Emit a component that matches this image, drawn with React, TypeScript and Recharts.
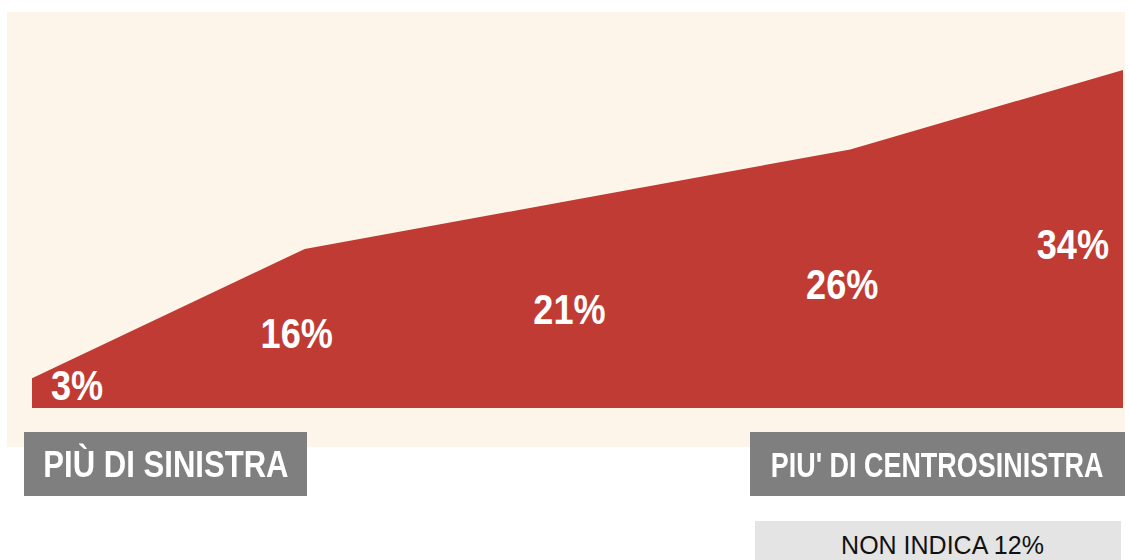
// Area "ladder" of self-placement answers, from far left to centre-left,
// with the two scale ends as grey tags under the plot and the
// "no answer" share in a light box below.
import { Area, AreaChart, LabelList, XAxis, YAxis } from "recharts";

const positions = [0, 1, 2, 3, 4];
const shares = [3, 16, 21, 26, 34];
const scaleEnds = ["PIÙ DI SINISTRA", "PIU' DI CENTROSINISTRA"];
const noAnswer = "NON INDICA 12%";

const RED = "#c03b33";
const CREAM = "#fdf5e9";
const GREY = "#7f7f7f";
const LIGHT = "#e4e4e4";
const SANS = "'Liberation Sans', Arial, Helvetica, sans-serif";

const W = 1118;
const H = 435;
const M = { top: 58, right: 2, bottom: 39, left: 25 };
const BASE = H - M.bottom;

const rows = positions.map((p, i) => ({ p, v: shares[i] }));

function ShareLabel(props: any) {
  const { x, y, value, index } = props;
  if (x == null || y == null) return null;
  const last = index === shares.length - 1;
  const first = index === 0;
  // sit in the middle of the column, but never crowd the baseline
  const cy = Math.min((y + BASE) / 2 + 5, BASE - 23);
  const tx = first ? x + 19 : last ? x - 14 : x - 8;
  const anchor = first ? "start" : last ? "end" : "middle";
  // no condensed face installed: squeeze the bold sans horizontally
  return (
    <g transform={`translate(${tx},${cy + 15}) scale(0.86,1)`}>
      <text
        x={0}
        y={0}
        textAnchor={anchor}
        fill="#fff"
        fontFamily={SANS}
        fontWeight={700}
        fontSize={42}
      >
        {`${value}%`}
      </text>
    </g>
  );
}

function Tag({ text, left, width, size, squeeze }: { text: string; left: number; width: number; size: number; squeeze: number }) {
  return (
    <div
      style={{
        position: "absolute",
        left,
        top: 432,
        width,
        height: 64,
        background: GREY,
        display: "flex",
        alignItems: "center",
        justifyContent: "center",
      }}
    >
      <span
        style={{
          display: "inline-block",
          whiteSpace: "nowrap",
          color: "#fff",
          fontFamily: SANS,
          fontWeight: 700,
          fontSize: size,
          lineHeight: 1,
          transform: `scaleX(${squeeze})`,
        }}
      >
        {text}
      </span>
    </div>
  );
}

export default function App() {
  return (
    <div style={{ position: "fixed", left: 0, top: 0, width: 1129, height: 560, overflow: "hidden" }}>
      <div style={{ position: "absolute", left: 7, top: 12, width: W, height: H, background: CREAM }} />
      <div style={{ position: "absolute", left: 7, top: 12 }}>
        <AreaChart width={W} height={H} data={rows} margin={M}>
          <XAxis dataKey="p" type="number" domain={[0, 4]} hide />
          <YAxis type="number" domain={[0, 34]} hide />
          <Area
            type="linear"
            dataKey="v"
            stroke="none"
            fill={RED}
            fillOpacity={1}
            dot={false}
            activeDot={false}
            isAnimationActive={false}
          >
            <LabelList dataKey="v" content={ShareLabel} />
          </Area>
        </AreaChart>
      </div>
      <Tag text={scaleEnds[0]} left={24} width={283} size={37} squeeze={0.84} />
      <Tag text={scaleEnds[1]} left={750} width={375} size={35} squeeze={0.77} />
      <div
        style={{
          position: "absolute",
          left: 755,
          top: 521,
          width: 366,
          height: 50,
          background: LIGHT,
          color: "#111",
          fontFamily: SANS,
          fontSize: 25,
          lineHeight: 1,
          textAlign: "center",
          paddingTop: 12,
          paddingLeft: 9,
          boxSizing: "border-box",
        }}
      >
        {noAnswer}
      </div>
    </div>
  );
}
